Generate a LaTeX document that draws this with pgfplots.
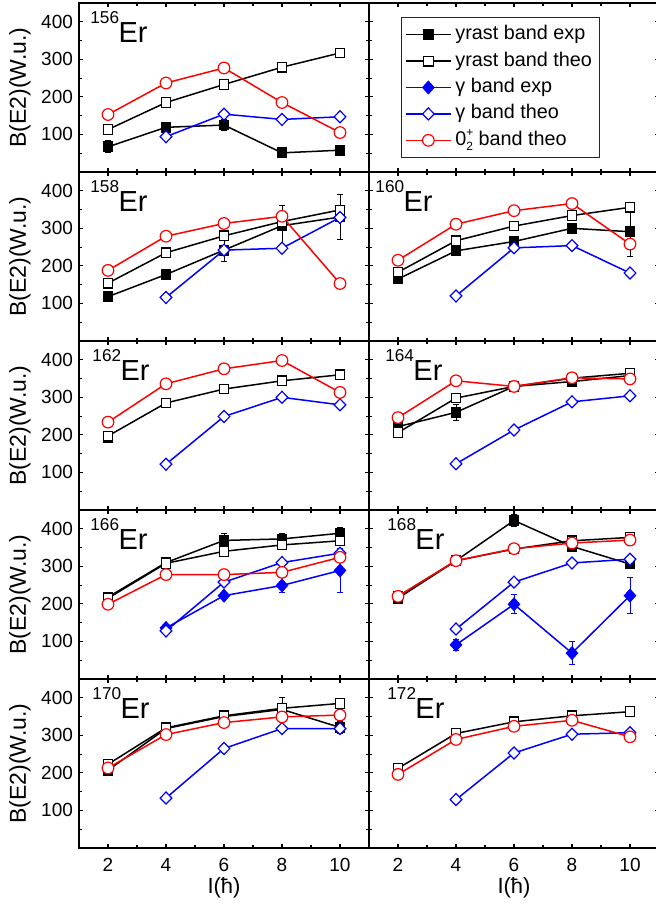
\documentclass[border=0pt]{standalone}
\usepackage{fontspec}
\setmainfont{Liberation Sans}
\usepackage{pgfplots}
\pgfplotsset{compat=1.18}
\newcommand\nuc[1]{\raisebox{9.2pt}{\fontsize{8.6}{9}\selectfont #1}\kern-0.3pt{\fontsize{14.5}{15}\selectfont Er}}
\pgfplotsset{
  panel/.style={
    scale only axis, width=145pt, height=84.5pt, anchor=south west,
    xmin=1, xmax=11, ymin=0, ymax=450,
    xtick={2,4,6,8,10}, minor xtick={3,5,7,9},
    ytick={100,200,300,400}, minor ytick={50,150,250,350},
    tick align=inside, major tick length=2.2pt, minor tick length=1.5pt,
    every tick/.style={black, line width=0.6pt},
    axis line style={line width=1pt},
    xticklabels={},
    tick label style={font=\fontsize{9.5}{10}\selectfont},
    xticklabel style={yshift=-1.5pt},
    yticklabel style={xshift=0.5pt},
    /pgf/number format/assume math mode=true,
  },
  noy/.style={yticklabels={}},
  botx/.style={xticklabels={2,4,6,8,10}},
  yexp/.style={black, line width=0.75pt, mark=square*, mark size=2.4pt, mark options={solid, fill=black, line width=0.6pt}},
  ytheo/.style={black, line width=0.75pt, mark=square*, mark size=2.4pt, mark options={solid, fill=white, line width=0.6pt}},
  gexp/.style={blue, line width=0.75pt, mark=diamond*, mark size=3.1pt, mark options={solid, fill=blue, xscale=1.2, line width=0.6pt}},
  gtheo/.style={blue, line width=0.75pt, mark=diamond*, mark size=3pt, mark options={solid, fill=white, xscale=1.3, line width=0.6pt}},
  otheo/.style={red, line width=0.75pt, mark=*, mark size=2.9pt, mark options={solid, fill=white, line width=0.6pt}},
  errs/.style={error bars/.cd, y dir=both, y explicit, error bar style={line width=0.5pt}, error mark options={rotate=90, mark size=1.6pt, line width=0.5pt}},
}
\begin{document}
\begin{tikzpicture}
% ---------- 156Er ----------
\begin{axis}[panel, at={(39.5pt,366.5pt)}]
\addplot[yexp, errs] coordinates {(2,67) +- (0,16) (4,119) +- (0,8) (6,125) +- (0,15) (8,51) +- (0,5) (10,58) +- (0,6)};
\addplot[ytheo] coordinates {(2,113) (4,185) (6,233) (8,279) (10,317)};
\addplot[gtheo] coordinates {(4,94) (6,154) (8,140) (10,147)};
\addplot[otheo] coordinates {(2,153) (4,237) (6,277) (8,185) (10,105)};
\node[anchor=base west, inner sep=0pt] at (rel axis cs:0.038,0.769) {\nuc{156}};
\end{axis}
% ---------- legend panel ----------
\begin{axis}[panel, noy, at={(184.5pt,366.5pt)},
  legend cell align=left,
  legend image code/.code={\draw[mark repeat=2, mark phase=2, #1] plot coordinates {(0pt,0pt) (11.25pt,0pt) (22.5pt,0pt)};},
  legend style={at={(rel axis cs:0.109,0.917)}, anchor=north west, draw=black!85, line width=0.5pt,
    font=\fontsize{9.9}{11}\selectfont, inner sep=2pt, row sep=0pt,
    nodes={inner sep=1.9pt, text height=0.72em, text depth=0.22em}}]
\addlegendimage{yexp}
\addlegendentry{yrast band exp}
\addlegendimage{ytheo}
\addlegendentry{yrast band theo}
\addlegendimage{gexp}
\addlegendentry{γ band exp}
\addlegendimage{gtheo}
\addlegendentry{γ band theo}
\addlegendimage{otheo}
\addlegendentry{0\makebox[0pt][l]{\raisebox{0.8ex}{\fontsize{6}{6}\selectfont +}}\raisebox{-0.5ex}{\fontsize{6}{6}\selectfont 2} band theo}
\end{axis}
% ---------- 158Er ----------
\begin{axis}[panel, at={(39.5pt,282pt)}]
\addplot[yexp, errs] coordinates {(2,118) +- (0,5) (4,177) +- (0,5) (6,242) +- (0,30) (8,307) +- (0,53) (10,330) +- (0,60)};
\addplot[ytheo] coordinates {(2,154) (4,235) (6,280) (8,318) (10,349)};
\addplot[gtheo] coordinates {(4,116) (6,242) (8,247) (10,329)};
\addplot[otheo] coordinates {(2,188) (4,279) (6,313) (8,332) (10,153)};
\node[anchor=base west, inner sep=0pt] at (rel axis cs:0.038,0.769) {\nuc{158}};
\end{axis}
% ---------- 160Er ----------
\begin{axis}[panel, noy, at={(184.5pt,282pt)}]
\addplot[yexp, errs] coordinates {(2,165) +- (0,5) (4,240) +- (0,5) (6,265) +- (0,8) (8,300) +- (0,5) (10,291) +- (0,67)};
\addplot[ytheo] coordinates {(2,183) (4,267) (6,306) (8,334) (10,356)};
\addplot[gtheo] coordinates {(4,120) (6,248) (8,254) (10,181)};
\addplot[otheo] coordinates {(2,215) (4,311) (6,347) (8,366) (10,258)};
\node[anchor=base west, inner sep=0pt] at (rel axis cs:0.021,0.769) {\nuc{160}};
\end{axis}
% ---------- 162Er ----------
\begin{axis}[panel, at={(39.5pt,197.5pt)}]
\addplot[yexp, errs] coordinates {(2,192) +- (0,8)};
\addplot[ytheo] coordinates {(2,197) (4,285) (6,322) (8,344) (10,360)};
\addplot[gtheo] coordinates {(4,122) (6,249) (8,300) (10,280)};
\addplot[otheo] coordinates {(2,234) (4,336) (6,376) (8,398) (10,313)};
\node[anchor=base west, inner sep=0pt] at (rel axis cs:0.045,0.769) {\nuc{162}};
\end{axis}
% ---------- 164Er ----------
\begin{axis}[panel, noy, at={(184.5pt,197.5pt)}]
\addplot[yexp, errs] coordinates {(2,222) +- (0,6) (4,260) +- (0,22) (6,329) +- (0,5) (8,342) +- (0,8) (10,358) +- (0,8)};
\addplot[ytheo] coordinates {(2,206) (4,298) (6,329) (8,351) (10,364)};
\addplot[gtheo] coordinates {(4,123) (6,213) (8,288) (10,304)};
\addplot[otheo] coordinates {(2,246) (4,344) (6,329) (8,352) (10,349)};
\node[anchor=base west, inner sep=0pt] at (rel axis cs:0.055,0.769) {\nuc{164}};
\end{axis}
% ---------- 166Er ----------
\begin{axis}[panel, at={(39.5pt,113pt)}]
\addplot[yexp, errs] coordinates {(2,218) +- (0,5) (4,310) +- (0,5) (6,369) +- (0,18) (8,373) +- (0,15) (10,388) +- (0,15)};
\addplot[ytheo] coordinates {(2,215) (4,308) (6,340) (8,357) (10,368)};
\addplot[gexp, errs] coordinates {(4,136) +- (0,5) (6,222) +- (0,8) (8,249) +- (0,20) (10,289) +- (0,58)};
\addplot[gtheo] coordinates {(4,128) (6,258) (8,310) (10,335)};
\addplot[otheo] coordinates {(2,199) (4,278) (6,278) (8,284) (10,324)};
\node[anchor=base west, inner sep=0pt] at (rel axis cs:0.038,0.769) {\nuc{166}};
\end{axis}
% ---------- 168Er ----------
\begin{axis}[panel, noy, at={(184.5pt,113pt)}]
\addplot[yexp, errs] coordinates {(2,215) +- (0,5) (4,315) +- (0,5) (6,422) +- (0,15) (8,353) +- (0,5) (10,306) +- (0,8)};
\addplot[ytheo] coordinates {(2,220) (4,315) (6,346) (8,368) (10,377)};
\addplot[gexp, errs] coordinates {(4,91) +- (0,15) (6,199) +- (0,25) (8,69) +- (0,30) (10,222) +- (0,47)};
\addplot[gtheo] coordinates {(4,133) (6,258) (8,309) (10,319)};
\addplot[otheo] coordinates {(2,220) (4,315) (6,347) (8,362) (10,370)};
\node[anchor=base west, inner sep=0pt] at (rel axis cs:0.062,0.769) {\nuc{168}};
\end{axis}
% ---------- 170Er ----------
\begin{axis}[panel, botx, at={(39.5pt,28.5pt)}]
\addplot[yexp, errs] coordinates {(2,207) +- (0,5) (4,318) +- (0,5) (6,350) +- (0,5) (8,369) +- (0,31) (10,321) +- (0,15)};
\addplot[ytheo] coordinates {(2,223) (4,320) (6,352) (8,372) (10,385)};
\addplot[gtheo] coordinates {(4,133) (6,265) (8,318) (10,318)};
\addplot[otheo] coordinates {(2,213) (4,302) (6,334) (8,349) (10,354)};
\node[anchor=base west, inner sep=0pt] at (rel axis cs:0.045,0.769) {\nuc{170}};
\end{axis}
% ---------- 172Er ----------
\begin{axis}[panel, noy, botx, at={(184.5pt,28.5pt)}]
\addplot[ytheo] coordinates {(2,212) (4,305) (6,336) (8,352) (10,363)};
\addplot[gtheo] coordinates {(4,129) (6,253) (8,303) (10,307)};
\addplot[otheo] coordinates {(2,196) (4,289) (6,324) (8,340) (10,296)};
\node[anchor=base west, inner sep=0pt] at (rel axis cs:0.062,0.769) {\nuc{172}};
\end{axis}
% ---------- labels ----------
\foreach \yy in {408.75,324.25,239.75,155.25,70.75}{
  \node[rotate=90, font=\fontsize{11.5}{12}\selectfont] at (10pt,\yy pt) {B(E2)(W.u.)};
}
\node[font=\fontsize{11}{12}\selectfont] at (112pt,8.6pt) {I(ħ)};
\node[font=\fontsize{11}{12}\selectfont] at (257pt,8.6pt) {I(ħ)};
\pgfresetboundingbox
\path[use as bounding box] (0pt,0pt) rectangle (328pt,452.5pt);
\end{tikzpicture}
\end{document}
